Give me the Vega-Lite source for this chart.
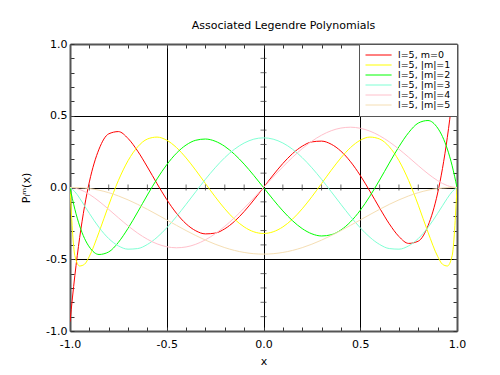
{
  "$schema": "https://vega.github.io/schema/vega-lite/v6.json",
  "width": 387,
  "height": 287,
  "autosize": {"type": "none"},
  "padding": {"left": 70, "top": 44, "right": 43, "bottom": 44},
  "background": "white",
  "title": {"text": "Associated Legendre Polynomials", "font": "DejaVu Sans", "fontSize": 11, "fontWeight": "normal", "color": "black", "anchor": "middle", "dx": 20, "offset": 7},
  "config": {"view": {"stroke": null}},
  "datasets": {
    "curves": [
      {"m":0,"x":-1,"y":-0.9356},{"m":0,"x":-0.975,"y":-0.6145},{"m":0,"x":-0.95,"y":-0.3488},{"m":0,"x":-0.925,"y":-0.1329},{"m":0,"x":-0.9,"y":0.0385},{"m":0,"x":-0.85,"y":0.2673},{"m":0,"x":-0.8,"y":0.3738},{"m":0,"x":-0.75,"y":0.3896},{"m":0,"x":-0.7,"y":0.3417},{"m":0,"x":-0.65,"y":0.2531},{"m":0,"x":-0.6,"y":0.1428},{"m":0,"x":-0.55,"y":0.0264},{"m":0,"x":-0.5,"y":-0.0841},{"m":0,"x":-0.45,"y":-0.1794},{"m":0,"x":-0.4,"y":-0.2532},{"m":0,"x":-0.35,"y":-0.3017},{"m":0,"x":-0.3,"y":-0.3232},{"m":0,"x":-0.25,"y":-0.3179},{"m":0,"x":-0.2,"y":-0.2877},{"m":0,"x":-0.15,"y":-0.2361},{"m":0,"x":-0.1,"y":-0.1673},{"m":0,"x":-0.05,"y":-0.0867},{"m":0,"x":0,"y":0},{"m":0,"x":0.05,"y":0.0867},{"m":0,"x":0.1,"y":0.1673},{"m":0,"x":0.15,"y":0.2361},{"m":0,"x":0.2,"y":0.2877},{"m":0,"x":0.25,"y":0.3179},{"m":0,"x":0.3,"y":0.3232},{"m":0,"x":0.35,"y":0.3017},{"m":0,"x":0.4,"y":0.2532},{"m":0,"x":0.45,"y":0.1794},{"m":0,"x":0.5,"y":0.0841},{"m":0,"x":0.55,"y":-0.0264},{"m":0,"x":0.6,"y":-0.1428},{"m":0,"x":0.65,"y":-0.2531},{"m":0,"x":0.7,"y":-0.3417},{"m":0,"x":0.75,"y":-0.3896},{"m":0,"x":0.8,"y":-0.3738},{"m":0,"x":0.85,"y":-0.2673},{"m":0,"x":0.9,"y":-0.0385},{"m":0,"x":0.925,"y":0.1329},{"m":0,"x":0.95,"y":0.3488},{"m":0,"x":0.975,"y":0.6145},{"m":0,"x":1,"y":0.9356},
      {"m":1,"x":-1,"y":0},{"m":1,"x":-0.975,"y":-0.4746},{"m":1,"x":-0.95,"y":-0.547},{"m":1,"x":-0.925,"y":-0.5349},{"m":1,"x":-0.9,"y":-0.48},{"m":1,"x":-0.85,"y":-0.3117},{"m":1,"x":-0.8,"y":-0.1233},{"m":1,"x":-0.75,"y":0.0488},{"m":1,"x":-0.7,"y":0.1871},{"m":1,"x":-0.65,"y":0.2839},{"m":1,"x":-0.6,"y":0.3378},{"m":1,"x":-0.55,"y":0.3513},{"m":1,"x":-0.5,"y":0.3294},{"m":1,"x":-0.45,"y":0.2786},{"m":1,"x":-0.4,"y":0.2062},{"m":1,"x":-0.35,"y":0.12},{"m":1,"x":-0.3,"y":0.0275},{"m":1,"x":-0.25,"y":-0.0642},{"m":1,"x":-0.2,"y":-0.1486},{"m":1,"x":-0.15,"y":-0.2203},{"m":1,"x":-0.1,"y":-0.2747},{"m":1,"x":-0.05,"y":-0.3087},{"m":1,"x":0,"y":-0.3203},{"m":1,"x":0.05,"y":-0.3087},{"m":1,"x":0.1,"y":-0.2747},{"m":1,"x":0.15,"y":-0.2203},{"m":1,"x":0.2,"y":-0.1486},{"m":1,"x":0.25,"y":-0.0642},{"m":1,"x":0.3,"y":0.0275},{"m":1,"x":0.35,"y":0.12},{"m":1,"x":0.4,"y":0.2062},{"m":1,"x":0.45,"y":0.2786},{"m":1,"x":0.5,"y":0.3294},{"m":1,"x":0.55,"y":0.3513},{"m":1,"x":0.6,"y":0.3378},{"m":1,"x":0.65,"y":0.2839},{"m":1,"x":0.7,"y":0.1871},{"m":1,"x":0.75,"y":0.0488},{"m":1,"x":0.8,"y":-0.1233},{"m":1,"x":0.85,"y":-0.3117},{"m":1,"x":0.9,"y":-0.48},{"m":1,"x":0.925,"y":-0.5349},{"m":1,"x":0.95,"y":-0.547},{"m":1,"x":0.975,"y":-0.4746},{"m":1,"x":1,"y":0},
      {"m":2,"x":-1,"y":0},{"m":2,"x":-0.975,"y":-0.1511},{"m":2,"x":-0.95,"y":-0.2681},{"m":2,"x":-0.925,"y":-0.3547},{"m":2,"x":-0.9,"y":-0.4144},{"m":2,"x":-0.85,"y":-0.4667},{"m":2,"x":-0.8,"y":-0.4491},{"m":2,"x":-0.75,"y":-0.3823},{"m":2,"x":-0.7,"y":-0.2844},{"m":2,"x":-0.65,"y":-0.1702},{"m":2,"x":-0.6,"y":-0.0521},{"m":2,"x":-0.55,"y":0.0601},{"m":2,"x":-0.5,"y":0.1589},{"m":2,"x":-0.45,"y":0.2387},{"m":2,"x":-0.4,"y":0.2961},{"m":2,"x":-0.35,"y":0.3292},{"m":2,"x":-0.3,"y":0.3378},{"m":2,"x":-0.25,"y":0.3228},{"m":2,"x":-0.2,"y":0.2864},{"m":2,"x":-0.15,"y":0.2317},{"m":2,"x":-0.1,"y":0.1628},{"m":2,"x":-0.05,"y":0.0839},{"m":2,"x":0,"y":0},{"m":2,"x":0.05,"y":-0.0839},{"m":2,"x":0.1,"y":-0.1628},{"m":2,"x":0.15,"y":-0.2317},{"m":2,"x":0.2,"y":-0.2864},{"m":2,"x":0.25,"y":-0.3228},{"m":2,"x":0.3,"y":-0.3378},{"m":2,"x":0.35,"y":-0.3292},{"m":2,"x":0.4,"y":-0.2961},{"m":2,"x":0.45,"y":-0.2387},{"m":2,"x":0.5,"y":-0.1589},{"m":2,"x":0.55,"y":-0.0601},{"m":2,"x":0.6,"y":0.0521},{"m":2,"x":0.65,"y":0.1702},{"m":2,"x":0.7,"y":0.2844},{"m":2,"x":0.75,"y":0.3823},{"m":2,"x":0.8,"y":0.4491},{"m":2,"x":0.85,"y":0.4667},{"m":2,"x":0.9,"y":0.4144},{"m":2,"x":0.925,"y":0.3547},{"m":2,"x":0.95,"y":0.2681},{"m":2,"x":0.975,"y":0.1511},{"m":2,"x":1,"y":0},
      {"m":3,"x":-1,"y":0},{"m":3,"x":-0.975,"y":-0.0287},{"m":3,"x":-0.95,"y":-0.075},{"m":3,"x":-0.925,"y":-0.1272},{"m":3,"x":-0.9,"y":-0.1802},{"m":3,"x":-0.85,"y":-0.2783},{"m":3,"x":-0.8,"y":-0.3557},{"m":3,"x":-0.75,"y":-0.4067},{"m":3,"x":-0.7,"y":-0.4297},{"m":3,"x":-0.65,"y":-0.4255},{"m":3,"x":-0.6,"y":-0.3968},{"m":3,"x":-0.55,"y":-0.3471},{"m":3,"x":-0.5,"y":-0.2809},{"m":3,"x":-0.45,"y":-0.2027},{"m":3,"x":-0.4,"y":-0.1172},{"m":3,"x":-0.35,"y":-0.0292},{"m":3,"x":-0.3,"y":0.0571},{"m":3,"x":-0.25,"y":0.1374},{"m":3,"x":-0.2,"y":0.2083},{"m":3,"x":-0.15,"y":0.2667},{"m":3,"x":-0.1,"y":0.3101},{"m":3,"x":-0.05,"y":0.3369},{"m":3,"x":0,"y":0.346},{"m":3,"x":0.05,"y":0.3369},{"m":3,"x":0.1,"y":0.3101},{"m":3,"x":0.15,"y":0.2667},{"m":3,"x":0.2,"y":0.2083},{"m":3,"x":0.25,"y":0.1374},{"m":3,"x":0.3,"y":0.0571},{"m":3,"x":0.35,"y":-0.0292},{"m":3,"x":0.4,"y":-0.1172},{"m":3,"x":0.45,"y":-0.2027},{"m":3,"x":0.5,"y":-0.2809},{"m":3,"x":0.55,"y":-0.3471},{"m":3,"x":0.6,"y":-0.3968},{"m":3,"x":0.65,"y":-0.4255},{"m":3,"x":0.7,"y":-0.4297},{"m":3,"x":0.75,"y":-0.4067},{"m":3,"x":0.8,"y":-0.3557},{"m":3,"x":0.85,"y":-0.2783},{"m":3,"x":0.9,"y":-0.1802},{"m":3,"x":0.925,"y":-0.1272},{"m":3,"x":0.95,"y":-0.075},{"m":3,"x":0.975,"y":-0.0287},{"m":3,"x":1,"y":0},
      {"m":4,"x":-1,"y":0},{"m":4,"x":-0.975,"y":-0.0035},{"m":4,"x":-0.95,"y":-0.0133},{"m":4,"x":-0.925,"y":-0.0283},{"m":4,"x":-0.9,"y":-0.0477},{"m":4,"x":-0.85,"y":-0.0961},{"m":4,"x":-0.8,"y":-0.1522},{"m":4,"x":-0.75,"y":-0.2107},{"m":4,"x":-0.7,"y":-0.2672},{"m":4,"x":-0.65,"y":-0.3182},{"m":4,"x":-0.6,"y":-0.3607},{"m":4,"x":-0.55,"y":-0.3928},{"m":4,"x":-0.5,"y":-0.4128},{"m":4,"x":-0.45,"y":-0.4201},{"m":4,"x":-0.4,"y":-0.4143},{"m":4,"x":-0.35,"y":-0.3956},{"m":4,"x":-0.3,"y":-0.3646},{"m":4,"x":-0.25,"y":-0.3225},{"m":4,"x":-0.2,"y":-0.2705},{"m":4,"x":-0.15,"y":-0.2104},{"m":4,"x":-0.1,"y":-0.1439},{"m":4,"x":-0.05,"y":-0.073},{"m":4,"x":0,"y":0},{"m":4,"x":0.05,"y":0.073},{"m":4,"x":0.1,"y":0.1439},{"m":4,"x":0.15,"y":0.2104},{"m":4,"x":0.2,"y":0.2705},{"m":4,"x":0.25,"y":0.3225},{"m":4,"x":0.3,"y":0.3646},{"m":4,"x":0.35,"y":0.3956},{"m":4,"x":0.4,"y":0.4143},{"m":4,"x":0.45,"y":0.4201},{"m":4,"x":0.5,"y":0.4128},{"m":4,"x":0.55,"y":0.3928},{"m":4,"x":0.6,"y":0.3607},{"m":4,"x":0.65,"y":0.3182},{"m":4,"x":0.7,"y":0.2672},{"m":4,"x":0.75,"y":0.2107},{"m":4,"x":0.8,"y":0.1522},{"m":4,"x":0.85,"y":0.0961},{"m":4,"x":0.9,"y":0.0477},{"m":4,"x":0.925,"y":0.0283},{"m":4,"x":0.95,"y":0.0133},{"m":4,"x":0.975,"y":0.0035},{"m":4,"x":1,"y":0},
      {"m":5,"x":-1,"y":0},{"m":5,"x":-0.975,"y":-0.0003},{"m":5,"x":-0.95,"y":-0.0014},{"m":5,"x":-0.925,"y":-0.0037},{"m":5,"x":-0.9,"y":-0.0073},{"m":5,"x":-0.85,"y":-0.0188},{"m":5,"x":-0.8,"y":-0.0361},{"m":5,"x":-0.75,"y":-0.0588},{"m":5,"x":-0.7,"y":-0.0862},{"m":5,"x":-0.65,"y":-0.1176},{"m":5,"x":-0.6,"y":-0.1521},{"m":5,"x":-0.55,"y":-0.1886},{"m":5,"x":-0.5,"y":-0.2261},{"m":5,"x":-0.45,"y":-0.2636},{"m":5,"x":-0.4,"y":-0.3002},{"m":5,"x":-0.35,"y":-0.3348},{"m":5,"x":-0.3,"y":-0.3667},{"m":5,"x":-0.25,"y":-0.395},{"m":5,"x":-0.2,"y":-0.4191},{"m":5,"x":-0.15,"y":-0.4385},{"m":5,"x":-0.1,"y":-0.4526},{"m":5,"x":-0.05,"y":-0.4613},{"m":5,"x":0,"y":-0.4642},{"m":5,"x":0.05,"y":-0.4613},{"m":5,"x":0.1,"y":-0.4526},{"m":5,"x":0.15,"y":-0.4385},{"m":5,"x":0.2,"y":-0.4191},{"m":5,"x":0.25,"y":-0.395},{"m":5,"x":0.3,"y":-0.3667},{"m":5,"x":0.35,"y":-0.3348},{"m":5,"x":0.4,"y":-0.3002},{"m":5,"x":0.45,"y":-0.2636},{"m":5,"x":0.5,"y":-0.2261},{"m":5,"x":0.55,"y":-0.1886},{"m":5,"x":0.6,"y":-0.1521},{"m":5,"x":0.65,"y":-0.1176},{"m":5,"x":0.7,"y":-0.0862},{"m":5,"x":0.75,"y":-0.0588},{"m":5,"x":0.8,"y":-0.0361},{"m":5,"x":0.85,"y":-0.0188},{"m":5,"x":0.9,"y":-0.0073},{"m":5,"x":0.925,"y":-0.0037},{"m":5,"x":0.95,"y":-0.0014},{"m":5,"x":0.975,"y":-0.0003},{"m":5,"x":1,"y":0}
    ],
    "hticks": [
      {"x":-0.9,"y":0},{"x":-0.8,"y":0},{"x":-0.7,"y":0},{"x":-0.6,"y":0},{"x":-0.4,"y":0},{"x":-0.3,"y":0},{"x":-0.2,"y":0},{"x":-0.1,"y":0},
      {"x":0.1,"y":0},{"x":0.2,"y":0},{"x":0.3,"y":0},{"x":0.4,"y":0},{"x":0.6,"y":0},{"x":0.7,"y":0},{"x":0.8,"y":0},{"x":0.9,"y":0}
    ],
    "vticks": [
      {"x":0,"y":-0.9},{"x":0,"y":-0.8},{"x":0,"y":-0.7},{"x":0,"y":-0.6},{"x":0,"y":-0.4},{"x":0,"y":-0.3},{"x":0,"y":-0.2},{"x":0,"y":-0.1},
      {"x":0,"y":0.1},{"x":0,"y":0.2},{"x":0,"y":0.3},{"x":0,"y":0.4},{"x":0,"y":0.6},{"x":0,"y":0.7},{"x":0,"y":0.8},{"x":0,"y":0.9}
    ]
  },
  "resolve": {"axis": {"x": "independent", "y": "independent"}},
  "layer": [
    {
      "data": {"name": "curves"},
      "mark": {"type": "line", "strokeWidth": 1, "interpolate": "monotone", "clip": true},
      "encoding": {
        "x": {"field": "x", "type": "quantitative", "scale": {"domain": [-1, 1], "nice": false, "zero": false},
          "axis": {"orient": "bottom", "values": [-1,-0.9,-0.8,-0.7,-0.6,-0.5,-0.4,-0.3,-0.2,-0.1,0,0.1,0.2,0.3,0.4,0.5,0.6,0.7,0.8,0.9,1],
            "labelExpr": "indexof([-1,-0.5,0,0.5,1], datum.value) >= 0 ? (datum.value < 0 ? '-' : '') + format(abs(datum.value), '.1f') : ''",
            "labelOverlap": false, "labelFlush": false, "labelFont": "DejaVu Sans", "labelFontSize": 11, "labelColor": "black", "labelPadding": 11,
            "tickSize": -4, "tickColor": "#333", "tickWidth": 1,
            "domainColor": "#555", "domainWidth": 2,
            "grid": true, "gridColor": "black", "gridWidth": 1,
            "gridOpacity": {"condition": {"test": "indexof([-0.5,0,0.5], datum.value) >= 0", "value": 1}, "value": 0},
            "title": "x", "titleFont": "DejaVu Sans", "titleFontSize": 11, "titleFontWeight": "normal", "titleColor": "black", "titlePadding": 6}},
        "y": {"field": "y", "type": "quantitative", "scale": {"domain": [-1, 1], "nice": false, "zero": false},
          "axis": {"orient": "left", "values": [-1,-0.9,-0.8,-0.7,-0.6,-0.5,-0.4,-0.3,-0.2,-0.1,0,0.1,0.2,0.3,0.4,0.5,0.6,0.7,0.8,0.9,1],
            "labelExpr": "indexof([-1,-0.5,0,0.5,1], datum.value) >= 0 ? (datum.value < 0 ? '-' : '') + format(abs(datum.value), '.1f') : ''",
            "labelOverlap": false, "labelFlush": false, "labelFont": "DejaVu Sans", "labelFontSize": 11, "labelColor": "black", "labelPadding": 7,
            "tickSize": -4, "tickColor": "#333", "tickWidth": 1,
            "domainColor": "#555", "domainWidth": 2,
            "grid": true, "gridColor": "black", "gridWidth": 1,
            "gridOpacity": {"condition": {"test": "indexof([-0.5,0,0.5], datum.value) >= 0", "value": 1}, "value": 0},
            "title": "Pₗᵐ(x)", "titleFont": "DejaVu Sans", "titleFontSize": 11, "titleFontWeight": "normal", "titleColor": "black", "titlePadding": 14}},
        "color": {"field": "m", "type": "nominal",
          "scale": {"domain": [0,1,2,3,4,5], "range": ["#ff0000","#ffff00","#00ff00","#7fffd4","#ffc0cb","#f5deb3"]},
          "legend": {"orient": "top-right", "offset": 0, "title": null, "symbolType": "M-1,0H4.8", "symbolSize": 81, "symbolStrokeWidth": 1,
            "labelFont": "DejaVu Sans", "labelFontSize": 9.5, "labelColor": "black", "labelOffset": 23, "rowPadding": 0, "padding": 6,
            "fillColor": "white", "strokeColor": "#555",
            "labelExpr": "datum.value == 0 ? 'l=5, m=0' : 'l=5, |m|=' + datum.value"}}
      }
    },
    {
      "data": {"name": "hticks"},
      "mark": {"type": "tick", "orient": "vertical", "size": 6, "thickness": 1, "color": "#333"},
      "encoding": {
        "x": {"field": "x", "type": "quantitative", "scale": {"domain": [-1, 1], "nice": false, "zero": false},
          "axis": {"orient": "top", "values": [-1,-0.9,-0.8,-0.7,-0.6,-0.5,-0.4,-0.3,-0.2,-0.1,0,0.1,0.2,0.3,0.4,0.5,0.6,0.7,0.8,0.9,1],
            "labels": false, "grid": false, "title": null, "tickSize": -4, "tickColor": "#333", "domainColor": "#555", "domainWidth": 2}},
        "y": {"field": "y", "type": "quantitative", "scale": {"domain": [-1, 1], "nice": false, "zero": false},
          "axis": {"orient": "right", "values": [-1,-0.9,-0.8,-0.7,-0.6,-0.5,-0.4,-0.3,-0.2,-0.1,0,0.1,0.2,0.3,0.4,0.5,0.6,0.7,0.8,0.9,1],
            "labels": false, "grid": false, "title": null, "tickSize": -4, "tickColor": "#333", "domainColor": "#555", "domainWidth": 2}}
      }
    },
    {
      "data": {"name": "vticks"},
      "mark": {"type": "tick", "orient": "horizontal", "size": 6, "thickness": 1, "color": "#333"},
      "encoding": {
        "x": {"field": "x", "type": "quantitative", "axis": null},
        "y": {"field": "y", "type": "quantitative", "axis": null}
      }
    }
  ]
}
